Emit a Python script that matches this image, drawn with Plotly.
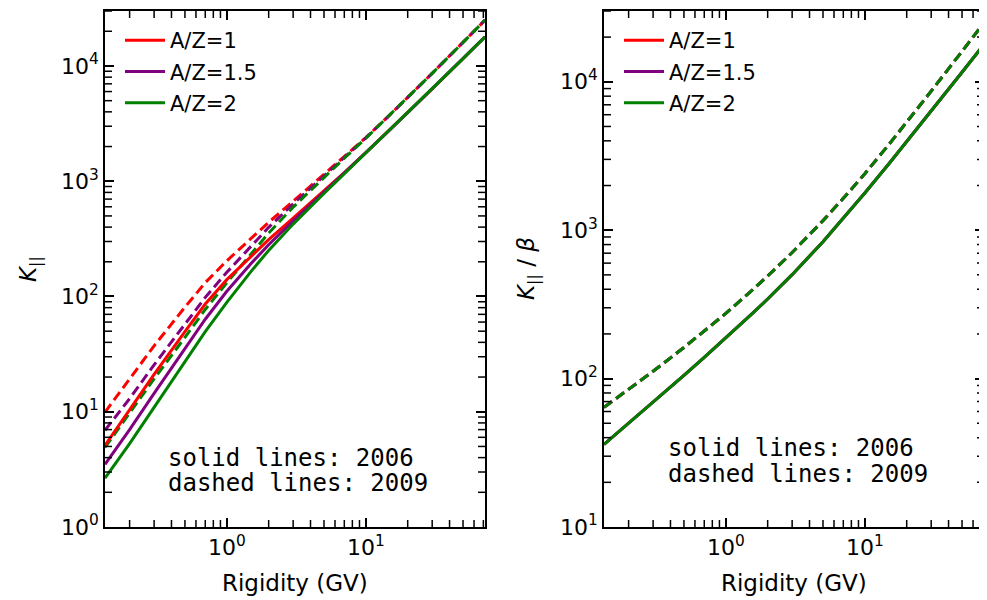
import plotly.graph_objects as go

# Rigidity grid (GV)
rigidity = [0.133, 0.2, 0.3, 0.5, 0.7, 1, 1.5, 2, 3, 5, 7, 10, 15, 20, 30, 50, 72]

# Left panel: K_parallel
k_az1_2006 = [5.1, 10.4, 21.1, 49.5, 86, 140, 226, 311, 478, 822, 1187, 1773, 2820, 3943, 6337, 11590, 17870]
k_az15_2006 = [3.5, 7.0, 14.45, 35.3, 63.5, 111, 194, 281, 454, 805, 1174, 1763, 2814, 3937, 6334, 11585, 17866]
k_az2_2006 = [2.65, 5.29, 10.9, 27.1, 49.5, 89, 166, 251, 425, 783, 1157, 1750, 2804, 3930, 6328, 11582, 17865]
k_az1_2009 = [9.9, 19.2, 37.3, 80.8, 131.8, 204, 319, 440, 670, 1140, 1624, 2391, 3803, 5328, 8645, 16030, 25000]
k_az15_2009 = [6.9, 13.0, 25.5, 57.5, 98.3, 162, 274, 398, 636, 1116, 1606, 2378, 3794, 5320, 8636, 16030, 25000]
k_az2_2009 = [4.9, 9.75, 19.3, 44.2, 77.2, 131.6, 234.8, 355, 596, 1086, 1583, 2360, 3780, 5310, 8632, 16020, 25000]

# Right panel: K_parallel / beta (identical for all A/Z)
kb_2006 = [36, 49.9, 69.3, 105.3, 139.2, 187.9, 266.3, 344, 501.6, 836, 1198, 1781, 2826, 3947, 6341, 11590, 17870]
kb_2009 = [64, 84.3, 112, 162, 208, 275, 384, 491, 707, 1160, 1639, 2402, 3811, 5333, 8650, 16030, 25000]

# Tick positions and labels
x_major = [1, 10]
x_major_text = ["10<sup>0</sup>", "10<sup>1</sup>"]
x_minor = [0.2, 0.3, 0.4, 0.5, 0.6, 0.7, 0.8, 0.9, 2, 3, 4, 5, 6, 7, 8, 9,
           20, 30, 40, 50, 60, 70]
y1_major = [1, 10, 100, 1000, 10000]
y1_major_text = ["10<sup>0</sup>", "10<sup>1</sup>", "10<sup>2</sup>", "10<sup>3</sup>", "10<sup>4</sup>"]
y2_major = [10, 100, 1000, 10000]
y2_major_text = ["10<sup>1</sup>", "10<sup>2</sup>", "10<sup>3</sup>", "10<sup>4</sup>"]
y_minor_mult = [2, 3, 4, 5, 6, 7, 8, 9]
y1_minor = [m * d for d in [1, 10, 100, 1000, 10000] for m in y_minor_mult]
y2_minor = [m * d for d in [10, 100, 1000, 10000] for m in y_minor_mult]

labels = ["A/Z=1", "A/Z=1.5", "A/Z=2"]
colors = ["#ff0000", "#800080", "#008000"]

left_solid = [k_az1_2006, k_az15_2006, k_az2_2006]
left_dashed = [k_az1_2009, k_az15_2009, k_az2_2009]

OFF = 8  # page body margin of the browser
W, H = 987 - OFF, 600 - OFF
ML, MR, MT, MB = 105 - OFF, 3, 11 - OFF, 73
PW, PH = W - ML - MR, H - MT - MB
LW = 3
DASH = "10px,5px"

xr = [-0.876, 1.857]
y1r = [0, 4.477]
y2r = [1, 4.477]


def dx(px):
    return (px - OFF - ML) / PW


def dy(py):
    return 1 - (py - OFF - MT) / PH


fig = go.Figure()

for i in range(3):
    fig.add_trace(go.Scatter(x=rigidity, y=left_dashed[i], mode="lines",
                             line=dict(color=colors[i], width=LW, dash=DASH),
                             showlegend=False, xaxis="x", yaxis="y"))
for i in range(3):
    fig.add_trace(go.Scatter(x=rigidity, y=left_solid[i], mode="lines", name=labels[i],
                             line=dict(color=colors[i], width=LW),
                             legendgroup="g%d" % i, legend="legend",
                             showlegend=True, xaxis="x", yaxis="y"))

for i in range(3):
    fig.add_trace(go.Scatter(x=rigidity, y=kb_2009, mode="lines",
                             line=dict(color=colors[i], width=LW, dash=DASH),
                             showlegend=False, xaxis="x2", yaxis="y2"))
    fig.add_trace(go.Scatter(x=rigidity, y=kb_2006, mode="lines", name=labels[i],
                             line=dict(color=colors[i], width=LW),
                             legendgroup="g%d" % i, legend="legend2",
                             showlegend=True, xaxis="x2", yaxis="y2"))

# Minor ticks: short line markers on the axis edges (outer half clipped by the axes)
tick_marker_v = dict(symbol="line-ns-open", size=10, color="black",
                     line=dict(color="black", width=1.5))
tick_marker_h = dict(symbol="line-ew-open", size=10, color="black",
                     line=dict(color="black", width=1.5))
for xa, ya, yr, yminor in [("x", "y", y1r, y1_minor), ("x2", "y2", y2r, y2_minor)]:
    ylo, yhi = 10 ** yr[0], 10 ** yr[1]
    xlo, xhi = 10 ** xr[0], 10 ** xr[1]
    fig.add_trace(go.Scatter(x=x_minor + x_minor,
                             y=[ylo] * len(x_minor) + [yhi] * len(x_minor),
                             mode="markers", marker=tick_marker_v, cliponaxis=True,
                             showlegend=False, hoverinfo="skip", xaxis=xa, yaxis=ya))
    fig.add_trace(go.Scatter(x=[xlo] * len(yminor) + [xhi] * len(yminor),
                             y=yminor + yminor,
                             mode="markers", marker=tick_marker_h, cliponaxis=True,
                             showlegend=False, hoverinfo="skip", xaxis=xa, yaxis=ya))

tickfont = dict(family="DejaVu Sans", size=22, color="black")
titlefont = dict(family="DejaVu Sans", size=23, color="black")
legfont = dict(family="DejaVu Sans", size=21, color="black")
annfont = dict(family="DejaVu Sans Mono", size=24, color="black")


def axis(**kw):
    d = dict(type="log", showline=True, linecolor="black", linewidth=1.6,
             mirror="allticks", ticks="inside", ticklen=9, tickwidth=1.6,
             tickcolor="black", showgrid=False, zeroline=False, automargin=False,
             tickfont=tickfont, tickmode="array")
    d.update(kw)
    return d


xdom1 = [dx(105), dx(485)]
xdom2 = [dx(604), dx(984)]

ann = []
for txt, xx, yy in [("Rigidity (GV)", 295, 583), ("Rigidity (GV)", 794, 583)]:
    ann.append(dict(text=txt, xref="paper", yref="paper", x=dx(xx), y=dy(yy),
                    xanchor="center", yanchor="middle", showarrow=False, font=titlefont))
for txt, xx in [("<i>K</i><sub>||</sub>", 30), ("<i>K</i><sub>||</sub> / <i>β</i>", 528)]:
    ann.append(dict(text=txt, xref="paper", yref="paper", x=dx(xx), y=dy(269),
                    xanchor="center", yanchor="middle", textangle=-90,
                    showarrow=False, font=titlefont))
for txt, xx, yy in [("solid lines: 2006", 166, 458), ("dashed lines: 2009", 166, 483),
                    ("solid lines: 2006", 666, 448), ("dashed lines: 2009", 666, 474)]:
    ann.append(dict(text=txt, xref="paper", yref="paper", x=dx(xx), y=dy(yy),
                    xanchor="left", yanchor="middle", showarrow=False, font=annfont))

fig.update_layout(
    width=W, height=H,
    margin=dict(l=ML, r=MR, t=MT, b=MB),
    paper_bgcolor="white", plot_bgcolor="white",
    font=tickfont,
    xaxis=axis(domain=xdom1, range=xr, anchor="y", tickvals=x_major, ticktext=x_major_text),
    yaxis=axis(domain=[0, 1], range=y1r, anchor="x", tickvals=y1_major, ticktext=y1_major_text),
    xaxis2=axis(domain=xdom2, range=xr, anchor="y2", tickvals=x_major, ticktext=x_major_text),
    yaxis2=axis(domain=[0, 1], range=y2r, anchor="x2", tickvals=y2_major, ticktext=y2_major_text),
    legend=dict(x=dx(120), y=dy(20), xanchor="left", yanchor="top",
                bgcolor="rgba(0,0,0,0)", font=legfont, tracegroupgap=1,
                itemwidth=40),
    legend2=dict(x=dx(619), y=dy(20), xanchor="left", yanchor="top",
                 bgcolor="rgba(0,0,0,0)", font=legfont, tracegroupgap=1,
                 itemwidth=40),
    annotations=ann,
)

fig.write_html("out.html")
